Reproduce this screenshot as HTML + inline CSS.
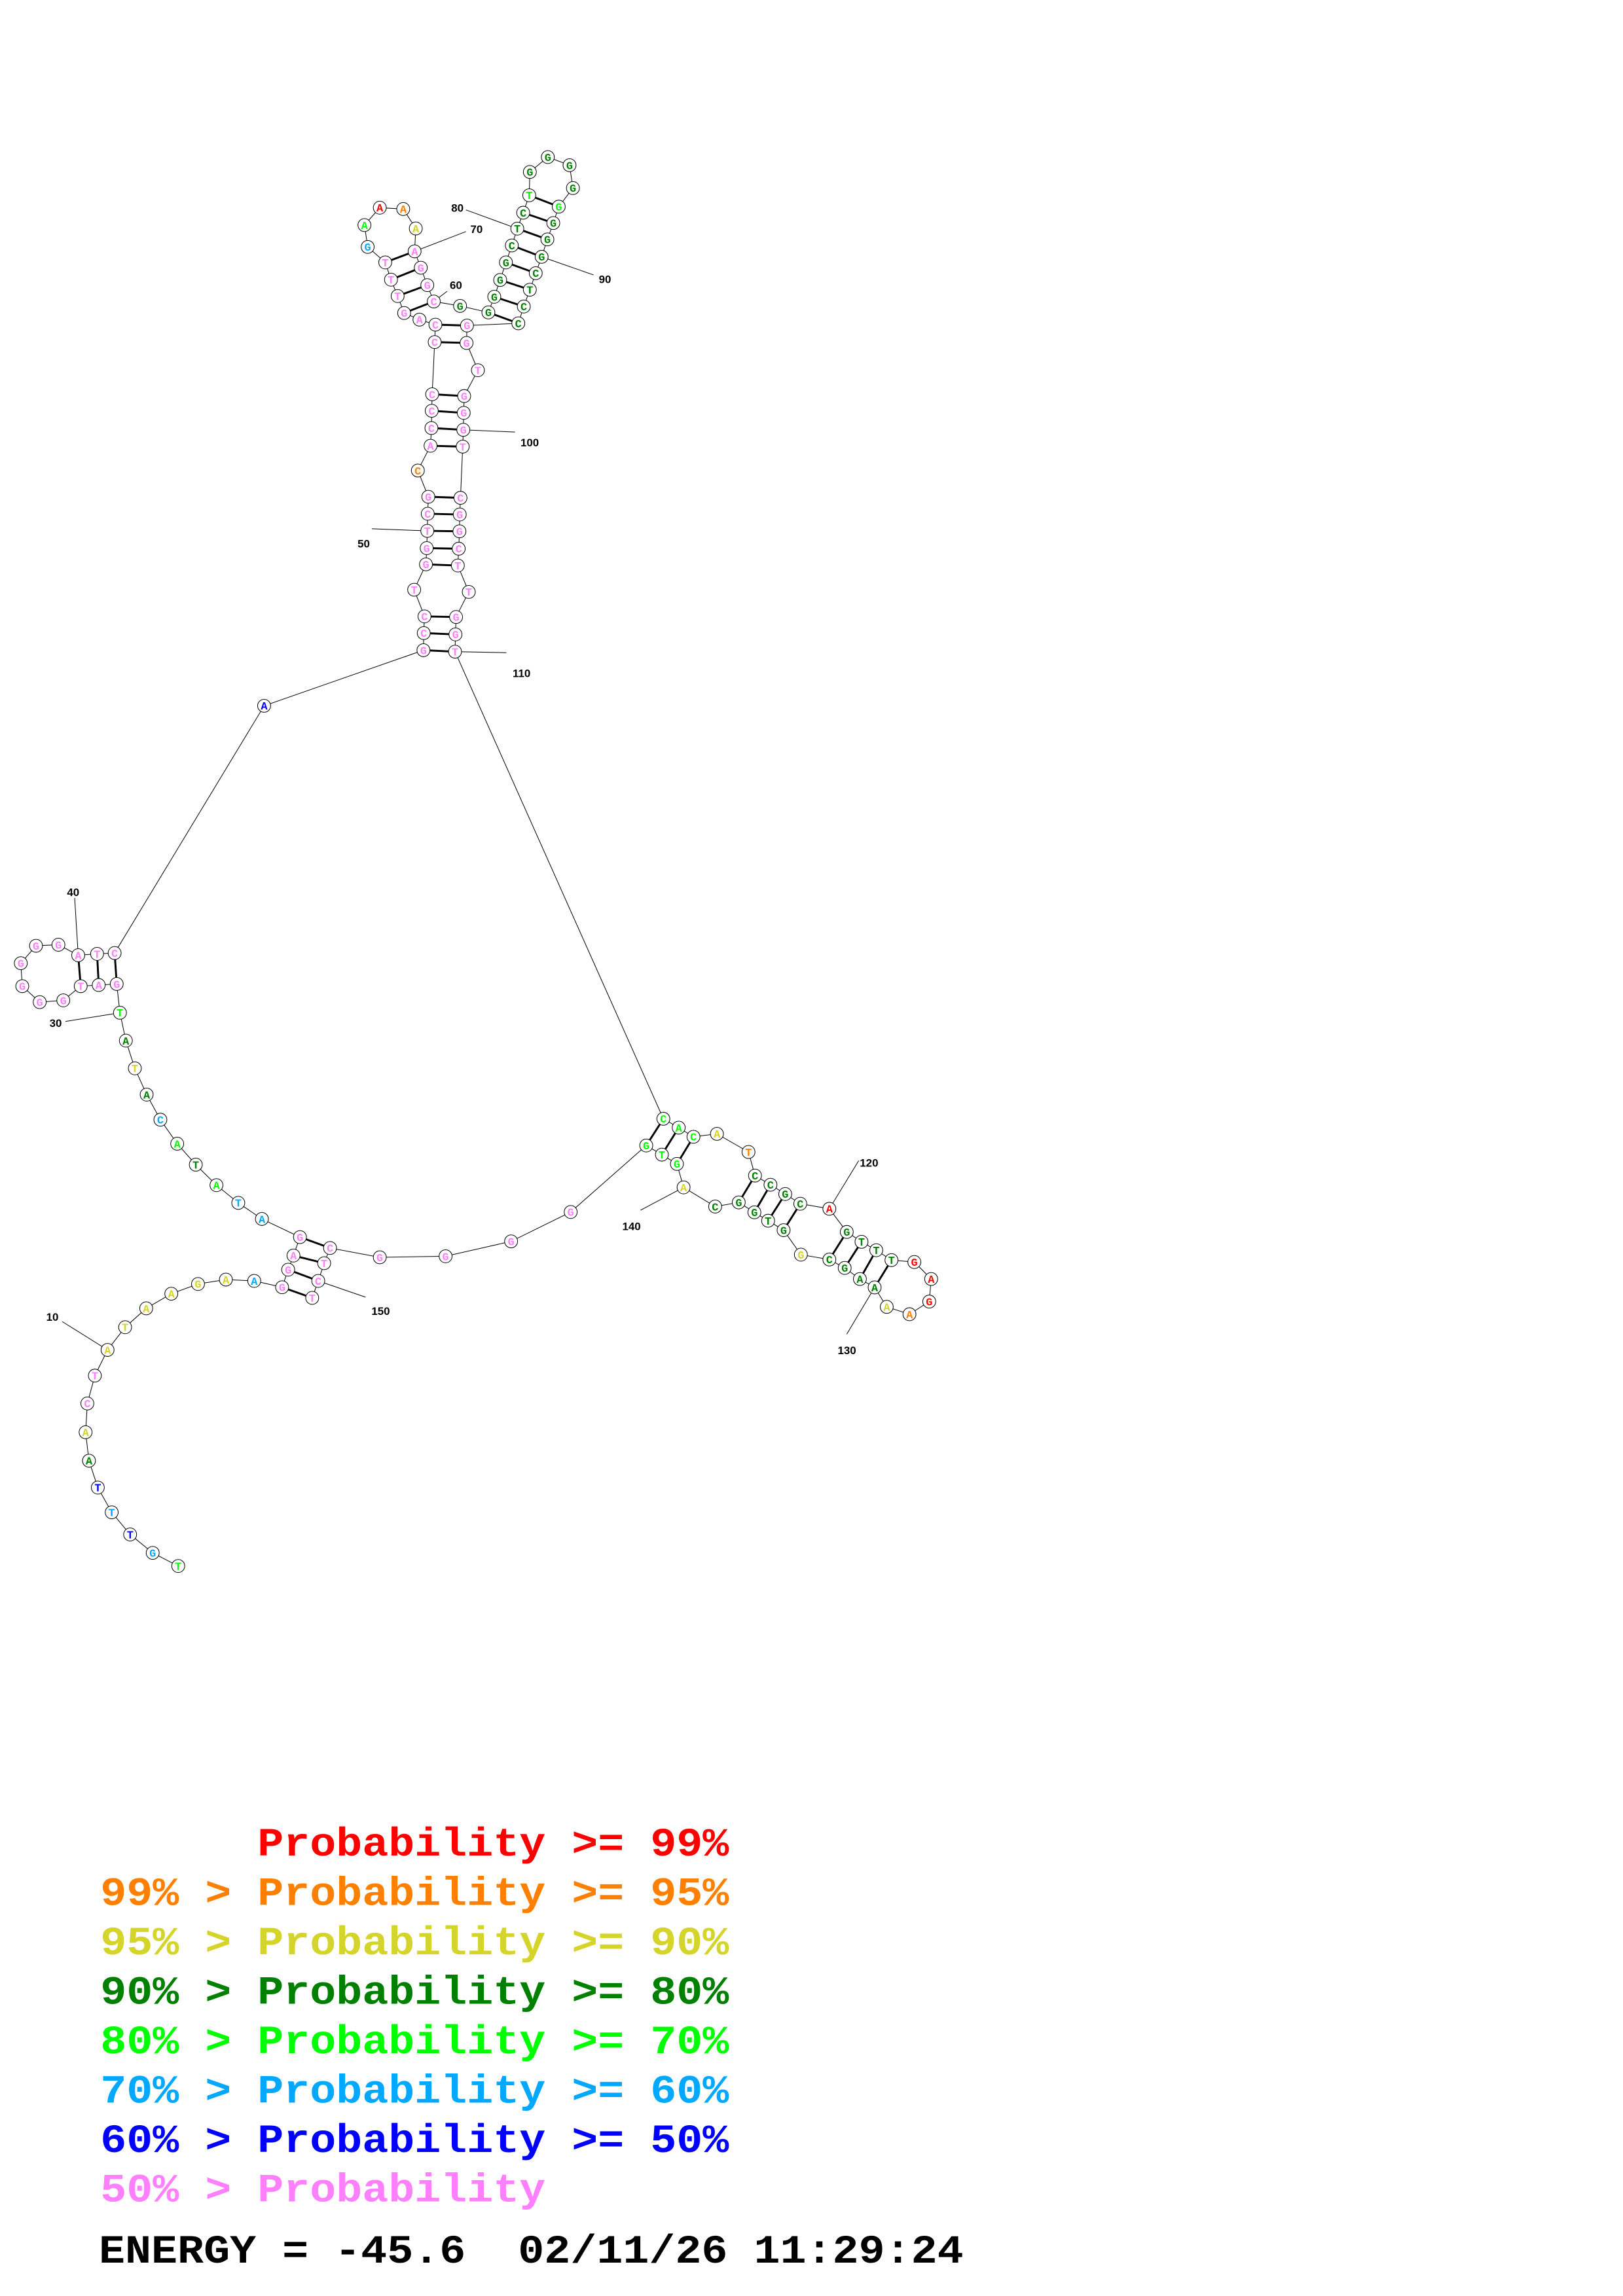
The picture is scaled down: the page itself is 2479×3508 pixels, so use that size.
<!DOCTYPE html>
<html><head><meta charset="utf-8"><style>
html,body{margin:0;padding:0;background:#fff;}
svg{display:block;}
.n circle{fill:#fff;stroke:#000;stroke-width:0.45;}
.n text{font-family:"Liberation Mono",monospace;font-weight:bold;font-size:7.5px;text-anchor:middle;}
.lb{font-family:"Liberation Sans","DejaVu Sans",sans-serif;font-weight:bold;font-size:7.5px;text-anchor:middle;fill:#000;}
.lg{font-family:"Liberation Mono",monospace;font-weight:bold;font-size:27px;white-space:pre;}
</style></head><body>
<svg id="s" xmlns="http://www.w3.org/2000/svg" width="2479" height="3508" viewBox="0 0 1100 1556.6">
<rect width="1100" height="1556.6" fill="#fff"/>
<g id="pairs" stroke="#000" stroke-width="1.3"></g>
<g id="bb" fill="none" stroke="#000" stroke-width="0.45"></g>
<g id="lbl" stroke="#000" stroke-width="0.45">
<line x1="42.2" y1="896" x2="72.9" y2="915.2"/>
<line x1="44.4" y1="692.5" x2="81.3" y2="686.6"/>
<line x1="50.6" y1="608.7" x2="53" y2="647.6"/>
<line x1="252" y1="358.5" x2="289.6" y2="359.9"/>
<line x1="303" y1="197.5" x2="294" y2="204.4"/>
<line x1="315.8" y1="157" x2="281" y2="170.4"/>
<line x1="315.8" y1="142.3" x2="350.6" y2="155"/>
<line x1="402.3" y1="186.4" x2="367.1" y2="174.1"/>
<line x1="349" y1="292.9" x2="314" y2="291.4"/>
<line x1="343.2" y1="442.5" x2="308.4" y2="441.8"/>
<line x1="582" y1="786.9" x2="562.1" y2="819.5"/>
<line x1="573.9" y1="904.5" x2="592.8" y2="872.8"/>
<line x1="434.1" y1="820.5" x2="463.3" y2="805"/>
<line x1="247.7" y1="879.4" x2="215.7" y2="868.4"/>
</g>
<g>
<text class="lb" x="35.5" y="895.5">10</text>
<text class="lb" x="37.7" y="696.3">30</text>
<text class="lb" x="49.6" y="607.4">40</text>
<text class="lb" x="246.5" y="371.2">50</text>
<text class="lb" x="309" y="196">60</text>
<text class="lb" x="323" y="158">70</text>
<text class="lb" x="310" y="143.5">80</text>
<text class="lb" x="410" y="192">90</text>
<text class="lb" x="359" y="302.6">100</text>
<text class="lb" x="353.5" y="459">110</text>
<text class="lb" x="589" y="791">120</text>
<text class="lb" x="574" y="918">130</text>
<text class="lb" x="428" y="834">140</text>
<text class="lb" x="258" y="891.5">150</text>
</g>
<g id="nodes"></g>
<text class="lg" x="174.5" y="1258" fill="#ff0000" textLength="319.5" lengthAdjust="spacingAndGlyphs">Probability &gt;= 99%</text>
<text class="lg" x="68" y="1291.5" fill="#ff8000" textLength="426" lengthAdjust="spacingAndGlyphs">99% &gt; Probability &gt;= 95%</text>
<text class="lg" x="68" y="1325" fill="#d4d42a" textLength="426" lengthAdjust="spacingAndGlyphs">95% &gt; Probability &gt;= 90%</text>
<text class="lg" x="68" y="1358.5" fill="#008000" textLength="426" lengthAdjust="spacingAndGlyphs">90% &gt; Probability &gt;= 80%</text>
<text class="lg" x="68" y="1392" fill="#00ff00" textLength="426" lengthAdjust="spacingAndGlyphs">80% &gt; Probability &gt;= 70%</text>
<text class="lg" x="68" y="1425.5" fill="#00a8ff" textLength="426" lengthAdjust="spacingAndGlyphs">70% &gt; Probability &gt;= 60%</text>
<text class="lg" x="68" y="1459" fill="#0000ff" textLength="426" lengthAdjust="spacingAndGlyphs">60% &gt; Probability &gt;= 50%</text>
<text class="lg" x="68" y="1492.5" fill="#ff80ff" textLength="301.75" lengthAdjust="spacingAndGlyphs">50% &gt; Probability</text>
<text class="lg" x="67" y="1534" fill="#000" textLength="586" lengthAdjust="spacingAndGlyphs">ENERGY = -45.6  02/11/26 11:29:24</text>
</svg>
<script>
var C={lg:"#00ff00",lb:"#00a8ff",b:"#0000ff",dg:"#008000",y:"#d4d42a",p:"#ff80ff",o:"#ff8000",r:"#ff0000"};
var N=[
[120.8,1061.7,"T","lg"],[103.5,1052.8,"G","lb"],[88.2,1040.3,"T","b"],[75.7,1025.3,"T","lb"],[66.3,1008.5,"T","b"],
[60.3,990.3,"A","dg"],[58,971,"A","y"],[59.2,951.5,"C","p"],[64.3,932.6,"T","p"],[72.9,915.2,"A","y"],
[84.8,899.8,"T","y"],[99.1,887,"A","y"],[116.1,877.1,"A","y"],[134.2,870.5,"G","y"],[153.1,867.5,"A","y"],
[172.3,868.4,"A","lb"],[191.2,872.7,"G","p"],[195.3,860.8,"G","p"],[198.9,851.2,"A","p"],[203.3,838.7,"G","p"],
[177.5,826.4,"A","lb"],[161.5,815.5,"T","lb"],[146.7,803.5,"A","lg"],[132.7,789.6,"T","dg"],[120.1,775.4,"A","lg"],
[108.7,759.1,"C","lb"],[99.4,742.1,"A","dg"],[91.4,724.3,"T","y"],[85.3,705.5,"A","dg"],[81.3,686.6,"T","lg"],
[79.1,667.1,"G","p"],[66.9,667.8,"A","p"],[54.7,668.6,"T","p"],[42.9,678.2,"G","p"],[26.9,679.4,"G","p"],
[15.1,668.6,"G","p"],[14.1,653,"G","p"],[24.4,641.2,"G","p"],[39.6,640.5,"G","p"],[53,647.6,"A","p"],
[65.8,646.7,"T","p"],[77.7,646.1,"C","p"],[179,478.5,"A","b"],[287,440.8,"G","p"],[287.2,429.2,"C","p"],
[287.7,417.9,"C","p"],[280.7,399.8,"T","p"],[288.7,382.6,"G","p"],[289.2,371.6,"G","p"],[289.6,359.9,"T","p"],
[289.9,348.3,"C","p"],[290.3,336.8,"G","p"],[283.2,319,"C","o"],[291.8,302.2,"A","p"],[292.4,290.2,"C","p"],
[292.6,278.5,"C","p"],[292.9,267.3,"C","p"],[294.6,231.9,"C","p"],[295.1,220.1,"C","p"],[284.3,216.7,"A","p"],
[273.9,212.2,"G","p"],[269.5,200.7,"T","p"],[265,189.6,"T","p"],[261.1,177.9,"T","p"],[249.2,167.4,"G","lb"],
[247,152.6,"A","lg"],[257.4,140.8,"A","r"],[273.3,141.7,"A","o"],[281.8,154.9,"A","y"],[281,170.4,"A","p"],
[285.2,181.5,"G","p"],[289.6,193.3,"G","p"],[294,204.4,"C","p"],[311.8,207.4,"G","dg"],[331,211.8,"G","dg"],
[335,201.2,"G","dg"],[339,189.8,"G","dg"],[342.9,177.9,"G","dg"],[346.9,166.4,"C","dg"],[350.6,155,"T","dg"],
[354.6,144.2,"C","dg"],[358.7,132.4,"T","lg"],[359.1,116.6,"G","dg"],[371.3,106.5,"G","dg"],[386,112,"G","dg"],
[388.3,127.5,"G","dg"],[378.7,140.1,"G","lg"],[375,151.2,"G","dg"],[371,162.3,"G","dg"],[367.1,174.1,"G","dg"],
[363.1,185.2,"C","dg"],[359.1,196.4,"T","dg"],[355,207.8,"C","dg"],[351.3,219.2,"C","dg"],[316.5,220.7,"G","p"],
[316.2,232.5,"G","p"],[323.9,251,"T","p"],[314.6,268.5,"G","p"],[314.3,279.9,"G","p"],[314,291.4,"G","p"],
[313.6,302.8,"T","p"],[312.1,337.5,"C","p"],[311.6,348.8,"G","p"],[311.4,360.2,"G","p"],[310.9,372,"C","p"],
[310.3,383.4,"T","p"],[317.7,401.3,"T","p"],[309.1,418.3,"G","p"],[308.7,430.1,"G","p"],[308.4,441.8,"T","p"],
[449.6,758.5,"C","lg"],[460,764.5,"A","lg"],[470,770.7,"C","lg"],[485.9,768.7,"A","y"],[507.3,781,"T","o"],
[511.7,797,"C","dg"],[522.2,803.2,"C","dg"],[532.2,809.5,"G","dg"],[542.4,816.1,"C","dg"],[562.1,819.5,"A","r"],
[573.9,835.2,"G","dg"],[583.9,841.9,"T","dg"],[593.9,847.6,"T","dg"],[604.2,854.3,"T","dg"],[619.7,855.6,"G","r"],
[631.1,867.1,"A","r"],[629.8,882.4,"G","r"],[616.4,891,"A","o"],[601,886,"A","y"],[592.8,872.8,"A","dg"],
[582.8,867.1,"A","dg"],[572.5,859.6,"G","dg"],[562.1,853.9,"C","dg"],[542.8,850.6,"G","y"],[531.1,834,"G","dg"],
[520.6,827.6,"T","dg"],[511.3,821.9,"G","dg"],[500.7,815.2,"G","dg"],[484.7,818,"C","dg"],[463.3,805,"A","y"],
[458.8,789.1,"G","lg"],[448.6,782.8,"T","lg"],[438,776.6,"G","lg"],[386.8,821.7,"G","p"],[346.4,841.6,"G","p"],
[302,851.7,"G","p"],[257.4,852.4,"G","p"],[223.7,846.1,"C","p"],[219.7,856.4,"T","p"],[215.7,868.4,"C","p"],
[211.6,879.9,"T","p"]];
var P=[[17,151],[18,150],[19,149],[20,148],[31,42],[32,41],[33,40],[44,110],[45,109],[46,108],[48,106],[49,105],[50,104],[51,103],[52,102],[54,101],[55,100],[56,99],[57,98],[58,96],[59,95],[61,73],[62,72],[63,71],[64,70],[75,94],[76,93],[77,92],[78,91],[79,90],[80,89],[81,88],[82,87],[111,143],[112,142],[113,141],[116,138],[117,137],[118,136],[119,135],[121,133],[122,132],[123,131],[124,130]];
var ns="http://www.w3.org/2000/svg";
function el(t,a,p){var e=document.createElementNS(ns,t);for(var k in a)e.setAttribute(k,a[k]);p.appendChild(e);return e;}
var pts=N.map(function(n){return n[0]+","+n[1];}).join(" ");
el("polyline",{points:pts},document.getElementById("bb"));
var pg=document.getElementById("pairs");
P.forEach(function(p){var a=N[p[0]-1],b=N[p[1]-1];el("line",{x1:a[0],y1:a[1],x2:b[0],y2:b[1]},pg);});
var ng=document.getElementById("nodes");
N.forEach(function(n){var g=el("g",{"class":"n"},ng);el("circle",{cx:n[0],cy:n[1],r:4.4},g);var t=el("text",{x:n[0],y:n[1]+2.6,fill:C[n[3]]},g);t.textContent=n[2];});
</script>
</body></html>
